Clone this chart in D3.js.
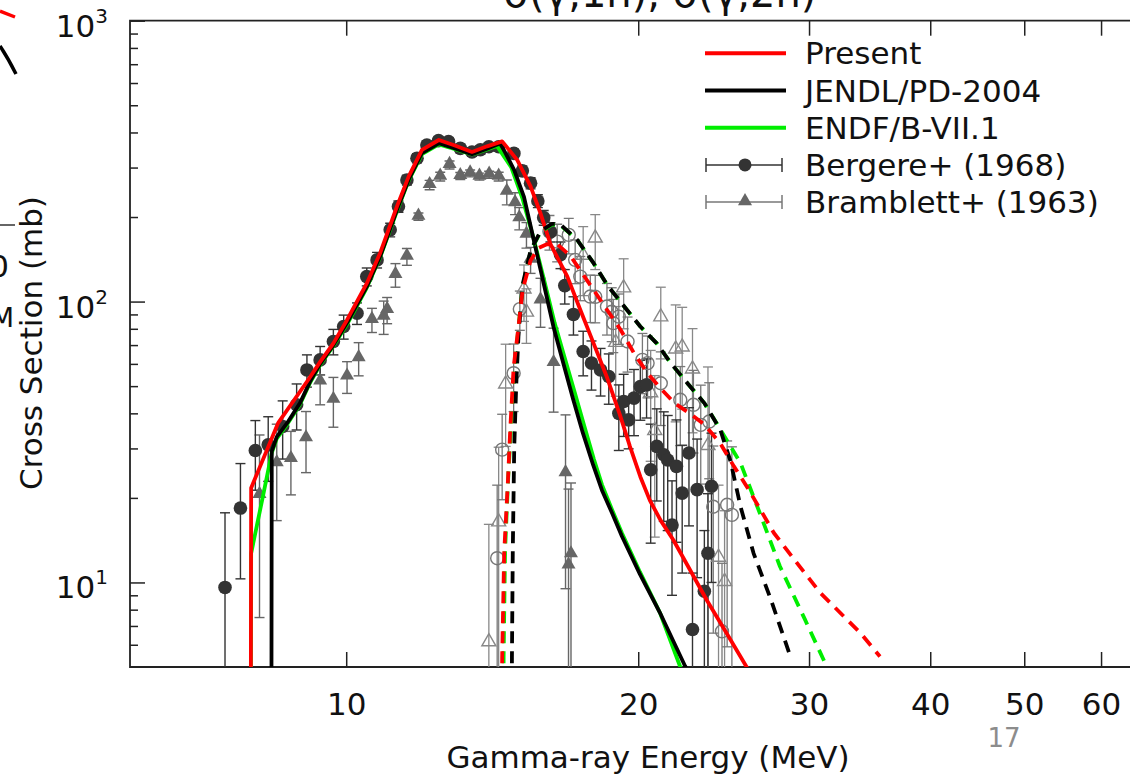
<!DOCTYPE html>
<html><head><meta charset="utf-8">
<script src="https://cdn.jsdelivr.net/npm/d3@7"></script>
<style>
html,body{margin:0;padding:0;background:#fff;}
svg{display:block;font-family:"DejaVu Sans",sans-serif;}
</style></head><body>
<svg id="chart" width="1130" height="775"></svg>
<script>
// ---- evaluated curves, [energy MeV, cross section mb] ----
const presentG1n = [[7.97,1],[7.98,21.7],[8.51,37],[9.15,53],[9.4,61],[9.7,71],[10.02,86],[10.5,116],[10.84,149],[11.28,218],[11.6,279],[11.97,347],[12.46,376],[12.9,361],[13.48,341],[13.97,357],[14.48,372],[15.01,319],[15.49,257],[15.86,206],[16.24,160],[16.9,123],[17.43,93.5],[17.99,71],[18.56,54],[19.15,39.5],[19.61,30.5],[20.1,23.8],[20.56,19.6],[21.1,16.6],[21.74,14.16],[22.62,11.07],[23.53,8.66],[24.67,6.59],[25.87,5.0],[26.5,4.3]];
const jendlG1n = [[8.37,1],[8.38,29.3],[8.48,33],[8.69,36.9],[8.96,43.5],[9.18,52],[9.4,60],[9.7,70],[10.02,84],[10.5,113],[10.84,145],[11.28,212],[11.6,272],[11.97,338],[12.46,366],[12.9,352],[13.48,335],[13.97,350],[14.42,366],[14.9,294],[15.25,236],[15.6,167],[15.98,116],[16.36,81],[16.75,60],[17.14,44.8],[17.54,34],[17.97,26.2],[18.35,21.3],[18.79,17.7],[19.24,14.6],[20.08,10.7],[21.06,7.8],[22.35,5.04],[23,4.3]];
const endfG1n = [[7.97,1],[7.98,12.7],[8.2,20],[8.38,28.9],[8.48,32.5],[8.69,36.5],[8.96,43],[9.18,51.5],[9.4,59.5],[9.7,69.5],[10.02,83],[10.5,112],[10.84,144],[11.28,210],[11.6,270],[11.97,335],[12.46,363],[12.9,350],[13.48,334],[13.97,348],[14.3,358],[14.8,300],[15.2,232],[15.6,168],[16.0,119],[16.4,84],[16.8,63],[17.2,47.5],[17.6,36],[18.0,27.5],[18.35,22.3],[18.79,18.2],[19.24,15.0],[20.08,10.9],[21.06,7.8],[22.1,5.0],[22.6,4.4]];
const presentG2n = [[14.47,1],[14.48,5.4],[14.55,12.8],[14.68,23],[14.76,35],[14.88,58.5],[15.05,81],[15.2,110],[15.49,140],[15.78,155],[16.1,160],[16.5,160],[17.04,145],[17.43,129],[17.99,110],[18.57,93.5],[19.18,79.4],[19.8,65.5],[20.45,55.5],[21.1,49],[21.8,43.5],[22.6,40],[23.4,36.5],[24.3,31.3],[25.1,25.9],[26.0,21.4],[27.6,15.0],[29.0,12.0],[30.8,9.2],[32.3,7.8],[33.9,6.6],[35.5,5.45]];
const jendlG2n = [[14.81,1],[14.82,5.4],[14.85,13],[14.9,30],[14.97,50],[15.05,75],[15.2,115],[15.49,152],[15.86,178],[16.3,189],[16.6,189],[17.3,166],[17.99,137],[18.6,114],[19.3,97],[20.1,81.5],[20.9,71],[21.6,60.5],[22.5,51],[23.4,43.5],[24.3,35],[24.9,27],[25.5,18.6],[26.3,12.7],[27.4,8.7],[28.7,5.45]];
const endfG2n = [[14.52,1],[14.53,5.4],[14.58,13],[14.7,25],[14.85,45],[15.0,72],[15.2,113],[15.49,151],[15.86,177],[16.3,188],[16.6,188],[17.3,166],[17.99,137],[18.6,114],[19.3,97],[20.1,81.5],[20.9,71],[21.6,60.5],[22.5,51],[23.4,43.5],[24.1,36.8],[25.5,26.6],[26.7,17.6],[28.0,11.4],[29.7,7.4],[31.3,5.0],[31.8,4.5]];

// ---- measurements, [energy MeV, cross section mb, uncertainty mb] ----
const bergereG1n = [[7.50,9.6,8.1],[7.78,18.4,8.1],[8.06,29.5,8.2],[8.31,30.9,8.0],[8.60,35.9,8.4],[8.89,42.9,8.0],[9.11,57.1,7.5],[9.40,62.0,7.2],[9.70,72.1,7.5],[9.94,81.5,8],[10.26,90.9,8],[10.50,122.7,9],[10.76,140.7,9],[11.10,180,10],[11.32,218,10],[11.55,271,11],[11.83,324,12],[12.11,361,12],[12.45,374,12],[12.75,371,12],[13.11,351,12],[13.48,341,12],[13.75,347,12],[14.03,356,12],[14.36,356,12],[14.89,337,12],[15.19,292,12],[15.49,264,12],[15.76,228,12],[15.98,199,12],[16.24,177,14],[16.63,147,16],[16.80,114,16],[17.15,90,14],[17.55,66.4,12],[17.9,60.4,12],[18.29,57.1,11],[18.65,54.1,11],[19.1,40.0,10.5],[19.32,44.1,11],[19.55,37.9,8],[19.8,45.3,12],[20.1,49.8,12],[20.4,50.5,12],[20.6,25.2,11.4],[20.9,30.5,11],[21.25,28.5,12],[21.45,27.3,12],[21.67,16.0,7],[21.9,25.9,12],[22.2,20.8,10],[22.56,28.9,13],[22.75,6.8,4],[23.0,21.4,11],[23.4,9.3,6],[23.6,12.7,8],[23.8,22.0,12]];
const bramblettG1n = [[8.14,20.5,13],[8.48,26.6,10],[8.77,27.5,7],[9.09,32.6,8],[9.40,51.9,9],[9.70,44.7,9],[10.02,54.1,7],[10.3,62.9,8.5],[10.63,86.1,8.5],[10.93,88.4,12],[11.02,93.4,10],[11.24,124.5,12],[11.55,144.6,10],[11.87,200.7,6],[12.19,260,10],[12.5,278.6,10],[12.78,306.6,10],[13.11,280,8],[13.42,286,8],[13.72,278.6,8],[14.04,283,8],[14.36,278.6,10],[14.64,246,25],[14.93,224,20],[15.08,198,18],[15.34,173,18],[15.49,141,15],[15.86,101,20],[16.36,60.4,20],[16.83,24.5,15],[16.95,11.5,10],[17.05,12.6,10]];
const bergereG2n = [[14.31,12.2,10],[14.48,29.7,10],[14.88,55.6,15],[15.1,94,15],[16.2,177.5,25],[16.5,163.5,25],[16.96,172.8,25],[17.22,140.8,25],[17.43,122.7,22],[17.85,104.2,20],[18.06,104,20],[18.57,96,20],[18.78,92,20],[18.85,83.8,18],[19.1,88.4,18],[19.5,72.1,16],[20.2,62.0,15],[20.45,60.4,15],[21.1,51.2,15],[22.1,44.7,14],[22.8,42.9,14],[23.2,36.4,14],[23.67,37.4,14],[23.9,18.6,12],[24.7,18.9,13],[24.98,17.4,13],[24.4,6.7,5]];
const bramblettG2n = [[14.03,6.1,10],[14.36,16.3,14],[14.6,50.5,20],[15.25,110,25],[15.34,91,20],[17.55,145,40],[18.06,167,37],[18.96,71,25],[19.32,111,31],[20.6,47,20],[20.8,34.5,20],[21.1,87.5,25],[21.86,67.3,30],[22.2,68.4,27],[22.75,57.1,23],[23.6,30.5,28],[24.2,12.2,10],[24.55,10.0,8]];

// ---- axis ticks and labels ----
const xTicks = [10,20,30,40,50,60];
const yMajor = [10,100,1000];
const yMinor = [6,7,8,9,20,30,40,50,60,70,80,90,200,300,400,500,600,700,800,900];
const legendItems = ["Present","JENDL/PD-2004","ENDF/B-VII.1","Bergere+ (1968)","Bramblett+ (1963)"];
const headText = "σ(γ,1n), σ(γ,2n)";
const xTitle = "Gamma-ray Energy (MeV)";
const yTitle = "Cross Section (mb)";
const pageNo = "17";

const svg = d3.select("#chart");
const pL = 130, pT = 20.7, pB = 667;
const x = d3.scaleLog().domain([6,70]).range([131, 1166]);
const y = d3.scaleLog().domain([5,1000]).range([pB, pT]);

svg.append("defs").append("clipPath").attr("id","plot")
  .append("rect").attr("x",pL).attr("y",pT).attr("width",1100).attr("height",pB-pT);

// pieces of the neighbouring panel at the left edge
svg.append("line").attr("x1",0).attr("y1",11).attr("x2",15).attr("y2",17).attr("stroke","#f00").attr("stroke-width",3.5);
svg.append("path").attr("d","M0,46Q8,58 16,74").attr("fill","none").attr("stroke","#000").attr("stroke-width",3.5);
svg.append("line").attr("x1",0).attr("y1",225).attr("x2",15).attr("y2",225).attr("stroke","#333").attr("stroke-width",1.5);
svg.append("text").attr("x",9).attr("y",277).attr("text-anchor","end").attr("font-size",31).attr("fill","#111").text("0");
svg.append("text").attr("x",14).attr("y",327).attr("text-anchor","end").attr("font-size",27).attr("fill","#111").text("M");

// panel heading, mostly above the page edge
svg.append("text").attr("x",660).attr("y",7).attr("text-anchor","middle").attr("font-size",40).attr("fill","#111").text(headText);

// ticks
const gx = svg.append("g").attr("transform",`translate(0,${pB})`)
  .call(d3.axisBottom(x).tickValues(xTicks).tickSize(-15).tickPadding(26).tickFormat(d3.format("d")));
gx.select(".domain").remove();
gx.selectAll("line").attr("stroke","#222").attr("stroke-width",1.5);
gx.selectAll("text").attr("font-size",31).attr("fill","#111").attr("font-family","DejaVu Sans");

const gxt = svg.append("g").attr("transform",`translate(0,${pT})`)
  .call(d3.axisTop(x).tickValues(xTicks).tickSize(-15).tickFormat(""));
gxt.select(".domain").remove();
gxt.selectAll("line").attr("stroke","#222").attr("stroke-width",1.5);

const gyMinor = svg.append("g").attr("transform",`translate(${pL},0)`)
  .call(d3.axisLeft(y).tickValues(yMinor).tickSize(-8).tickFormat(""));
gyMinor.select(".domain").remove();
gyMinor.selectAll("line").attr("stroke","#222").attr("stroke-width",1.5);

const gyMajor = svg.append("g").attr("transform",`translate(${pL},0)`)
  .call(d3.axisLeft(y).tickValues(yMajor).tickSize(-15).tickFormat(""));
gyMajor.select(".domain").remove();
gyMajor.selectAll("line").attr("stroke","#222").attr("stroke-width",1.5);

yMajor.forEach(v => {
  const t = svg.append("text").attr("x",108).attr("y",y(v)+16).attr("text-anchor","end").attr("fill","#111").attr("font-size",31);
  t.append("tspan").text("10");
  t.append("tspan").attr("font-size",20).attr("dy",-14).text(String(Math.round(Math.log10(v))));
});

// frame
svg.append("path").attr("d",`M1135,${pT}H${pL}V${pB}H1135`).attr("fill","none").attr("stroke","#222").attr("stroke-width",1.8);

// axis titles
svg.append("text").attr("x",648).attr("y",768).attr("text-anchor","middle").attr("font-size",31).attr("fill","#111").text(xTitle);
svg.append("text").attr("transform","translate(42,343) rotate(-90)").attr("text-anchor","middle").attr("font-size",31).attr("fill","#111").text(yTitle);
svg.append("text").attr("x",1004).attr("y",747).attr("text-anchor","middle").attr("font-size",26).attr("fill","#8c8c8c").text(pageNo);

const plot = svg.append("g").attr("clip-path","url(#plot)");

// error bars + markers
function errBars(data, color, width){
  const g = plot.append("g").attr("stroke",color).attr("stroke-width",width).attr("fill","none");
  data.forEach(d => {
    const cx = x(d[0]);
    const hi = y(d[1]+d[2]);
    const lo = d[1]-d[2] > 0.5 ? y(d[1]-d[2]) : pB+10;
    g.append("line").attr("x1",cx).attr("x2",cx).attr("y1",hi).attr("y2",lo);
    g.append("line").attr("x1",cx-5).attr("x2",cx+5).attr("y1",hi).attr("y2",hi);
    if (lo < pB) g.append("line").attr("x1",cx-5).attr("x2",cx+5).attr("y1",lo).attr("y2",lo);
  });
}
const tri = d3.symbol().type(d3.symbolTriangle).size(85);

errBars(bramblettG2n,"#888",1.3);
errBars(bergereG2n,"#777",1.3);
errBars(bramblettG1n,"#666",1.4);
errBars(bergereG1n,"#333",1.4);

plot.append("g").selectAll("path").data(bramblettG2n).join("path")
  .attr("d",tri).attr("transform",d=>`translate(${x(d[0])},${y(d[1])-1})`)
  .attr("fill","none").attr("stroke","#888").attr("stroke-width",1.4);
plot.append("g").selectAll("circle").data(bergereG2n).join("circle")
  .attr("cx",d=>x(d[0])).attr("cy",d=>y(d[1])).attr("r",6.5)
  .attr("fill","none").attr("stroke","#777").attr("stroke-width",1.4);
plot.append("g").selectAll("path").data(bramblettG1n).join("path")
  .attr("d",tri).attr("transform",d=>`translate(${x(d[0])},${y(d[1])-1})`)
  .attr("fill","#666");
plot.append("g").selectAll("circle").data(bergereG1n).join("circle")
  .attr("cx",d=>x(d[0])).attr("cy",d=>y(d[1])).attr("r",6.8)
  .attr("fill","#333");

// evaluated curves
const line = d3.line().x(d=>x(d[0])).y(d=>y(d[1]));
function curve(data,color,dashed){
  plot.append("path").datum(data).attr("d",line).attr("fill","none")
    .attr("stroke",color).attr("stroke-width",3.8).attr("stroke-linejoin","round")
    .attr("stroke-dasharray",dashed ? "12,8" : null);
}
curve(endfG1n,"#00ee00",false);
curve(jendlG1n,"#000",false);
curve(presentG1n,"#f00",false);
curve(endfG2n,"#00ee00",true);
curve(jendlG2n,"#000",true);
curve(presentG2n,"#f00",true);

// legend
const colors = ["#f00","#000","#00ee00"];
const lg = svg.append("g");
legendItems.forEach((name,i) => {
  const ly = 53.3 + i*37.2;
  if (i < 3) {
    lg.append("line").attr("x1",705).attr("x2",786).attr("y1",ly).attr("y2",ly).attr("stroke",colors[i]).attr("stroke-width",4);
  } else {
    const c = i===3 ? "#333" : "#777";
    lg.append("line").attr("x1",706).attr("x2",782).attr("y1",ly).attr("y2",ly).attr("stroke",c).attr("stroke-width",1.5);
    lg.append("line").attr("x1",706).attr("x2",706).attr("y1",ly-7).attr("y2",ly+7).attr("stroke",c).attr("stroke-width",1.5);
    lg.append("line").attr("x1",782).attr("x2",782).attr("y1",ly-7).attr("y2",ly+7).attr("stroke",c).attr("stroke-width",1.5);
    if (i===3) lg.append("circle").attr("cx",745).attr("cy",ly).attr("r",6.5).attr("fill","#333");
    else lg.append("path").attr("d",tri).attr("transform",`translate(745,${ly-1})`).attr("fill","#666");
  }
  lg.append("text").attr("x",805).attr("y",ly+11).attr("font-size",31).attr("fill","#111").text(name);
});
</script>
</body></html>
